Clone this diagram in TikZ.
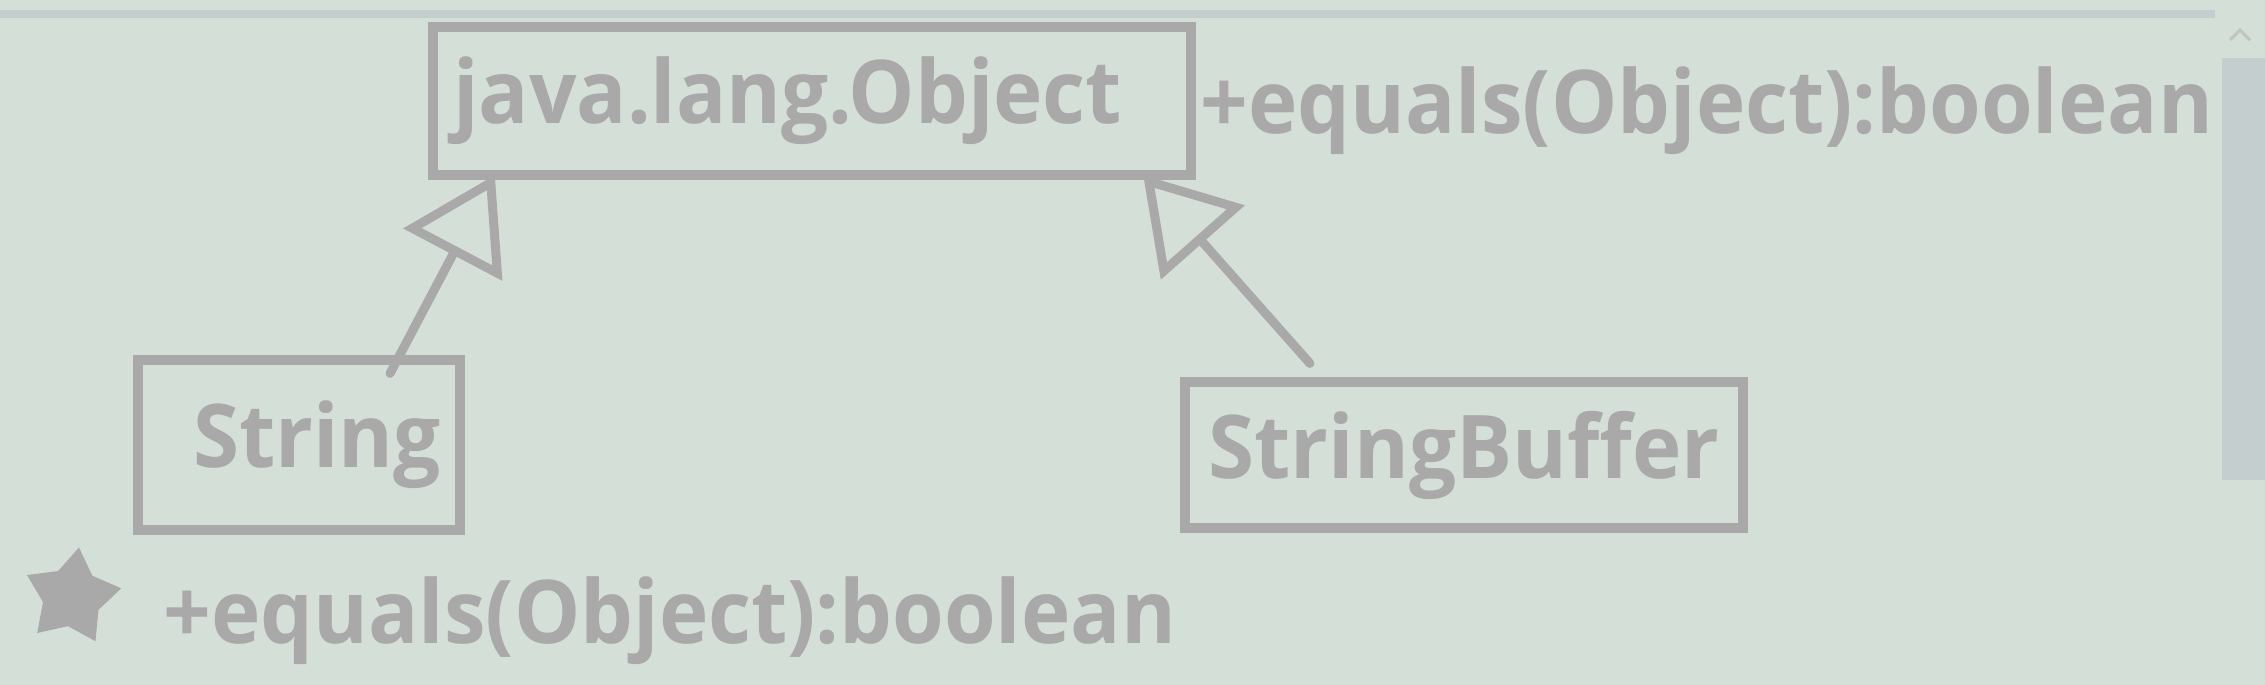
\documentclass[tikz,border=0pt]{standalone}
\usepackage{fontspec}
\setmainfont{Open Sans}[FakeStretch=0.95]
\usetikzlibrary{shapes.geometric,arrows.meta,positioning,calc}
\definecolor{bgpale}{RGB}{212,224,215}
\definecolor{inkgray}{RGB}{168,169,168}
\definecolor{barblue}{RGB}{197,206,207}
\newcommand{\umlfont}{\fontsize{25}{30}\selectfont\bfseries}
\tikzset{
        classbox/.style = {draw=inkgray, line width=0.1cm, rectangle, inner sep=0pt, text=inkgray, font=\umlfont},
        member/.style = {text=inkgray, font=\umlfont, inner sep=0pt},
        inherit/.style = {draw=inkgray, line width=0.09cm, line cap=round, line join=round, -{Triangle[open, length=0.9cm, width=1.1cm]}}}

\begin{document}
\begin{tikzpicture}[x=0.01cm, y=-0.01cm]
            \fill[bgpale] (0,0) rectangle (2265,685);
            \useasboundingbox (0,0) rectangle (2265,685);
            % window edge and scroll bar
            \draw[barblue, line width=0.08cm] (0,14) -- (2215,14);
            \fill[barblue] (2222,58) rectangle (2265,480);
            \draw[inkgray!70, line width=0.03cm] (2230,40) -- (2240,30) -- (2250,40);

            \node [classbox, minimum width=7.57cm, minimum height=1.48cm, text width=7.17cm, inner xsep=0.2cm, align=left] (obj) at (812,101) {java.lang.Object};
            \node [classbox, minimum width=3.22cm, minimum height=1.69cm, text width=2.84cm, inner xsep=0.19cm, align=right] (str) at (299,445) {String};
            \node [classbox, minimum width=5.58cm, minimum height=1.45cm] (buf) at (1464,455) {StringBuffer};
            \node [member, anchor=base west] (objeq) at (1200,134) {+equals(Object):boolean};
            \node [star, star points=5, star point ratio=1.7, fill=inkgray, minimum size=1cm, inner sep=0pt, rotate=-8] (mark) at (72,597) {};
            \node [member, anchor=base west] (streq) at (163,643) {+equals(Object):boolean};

            \begin{scope}[inherit]
            \draw ([xshift=0.91cm,yshift=-0.18cm]str.north) -- ([xshift=-3.17cm,yshift=0.05cm]obj.south);
            \draw ([xshift=-1.54cm,yshift=0.14cm]buf.north) -- ([xshift=3.31cm,yshift=0.05cm]obj.south);
            \end{scope}
\end{tikzpicture}
\end{document}
